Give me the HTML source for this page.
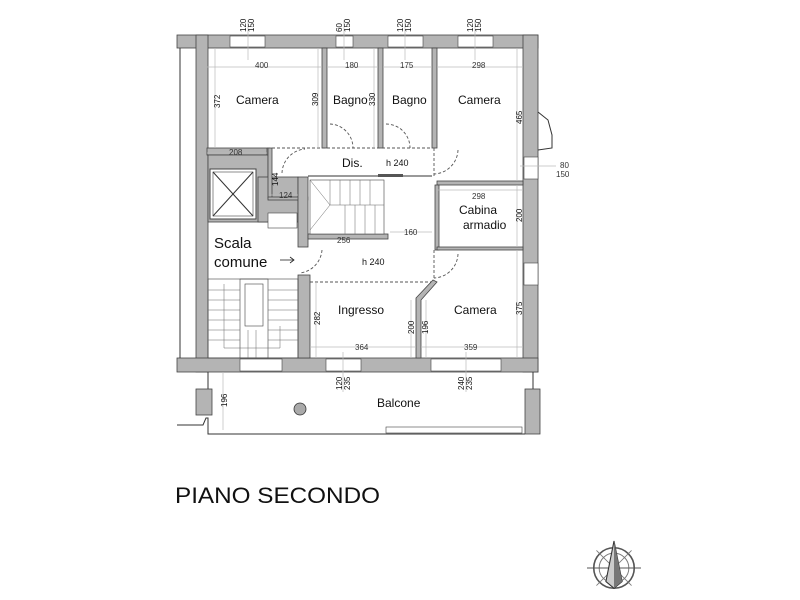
<!DOCTYPE html>
<html><head><meta charset="utf-8"><style>
html,body{margin:0;padding:0;background:#fff;}
svg{display:block;}
text{font-family:"Liberation Sans",sans-serif;fill:#111;}
.d{font-size:8px;fill:#333;}
.w{fill:#b4b4b4;stroke:#444;stroke-width:0.8;}
.l{stroke:#bbb;stroke-width:0.7;fill:none;}
.k{stroke:#333;stroke-width:1;fill:none;}
.dash{stroke:#555;stroke-width:0.9;fill:none;stroke-dasharray:3,2;}
</style></head><body>
<svg width="800" height="600" viewBox="0 0 800 600">
<rect class="w" x="177" y="35" width="361" height="13"/>
<rect class="w" x="196" y="35" width="12" height="337"/>
<rect class="w" x="523" y="35" width="15" height="337"/>
<rect class="w" x="177" y="358" width="361" height="14"/>
<line class="k" x1="180" y1="48" x2="180" y2="358"/>
<rect x="230" y="36" width="35" height="11" fill="#fff" stroke="#444" stroke-width="0.6"/>
<rect x="336" y="36" width="17" height="11" fill="#fff" stroke="#444" stroke-width="0.6"/>
<rect x="388" y="36" width="35" height="11" fill="#fff" stroke="#444" stroke-width="0.6"/>
<rect x="458" y="36" width="35" height="11" fill="#fff" stroke="#444" stroke-width="0.6"/>
<rect x="240" y="359" width="42" height="12" fill="#fff" stroke="#444" stroke-width="0.6"/>
<rect x="326" y="359" width="35" height="12" fill="#fff" stroke="#444" stroke-width="0.6"/>
<rect x="431" y="359" width="70" height="12" fill="#fff" stroke="#444" stroke-width="0.6"/>
<rect x="524" y="157" width="14" height="22" fill="#fff" stroke="#444" stroke-width="0.6"/>
<rect x="524" y="263" width="14" height="22" fill="#fff" stroke="#444" stroke-width="0.6"/>
<polyline class="k" points="538,112 548,120 552,135 552,148 538,150"/>
<rect class="w" x="322" y="48" width="5" height="100"/>
<rect class="w" x="378" y="48" width="5" height="100"/>
<rect class="w" x="432" y="48" width="5" height="100"/>
<rect class="w" x="207" y="148" width="60" height="7"/>
<rect class="w" x="437" y="181" width="86" height="4"/>
<rect class="w" x="435" y="185" width="4" height="65"/>
<rect class="w" x="437" y="247" width="86" height="3"/>
<rect class="w" x="208" y="155" width="60" height="67"/>
<rect class="w" x="258" y="177" width="40" height="45"/>
<rect class="w" x="268" y="148" width="4" height="50"/>
<rect class="w" x="268" y="197" width="40" height="3"/>
<rect x="210" y="169" width="46" height="50" fill="#fff" stroke="#444"/>
<rect x="213" y="172" width="40" height="44" fill="none" stroke="#444" stroke-width="0.6"/>
<line class="k" x1="213" y1="172" x2="253" y2="216" stroke-width="0.6"/>
<line class="k" x1="253" y1="172" x2="213" y2="216" stroke-width="0.6"/>
<rect x="268" y="213" width="29" height="15" fill="#fff" stroke="#444" stroke-width="0.6"/>
<rect class="w" x="298" y="177" width="10" height="70"/>
<rect class="w" x="298" y="275" width="12" height="83"/>
<rect class="w" x="308" y="234" width="80" height="5"/>
<rect x="310" y="180" width="74" height="54" fill="#fff" stroke="#444" stroke-width="0.6"/>
<g stroke="#666" stroke-width="0.5">
<line x1="330" y1="180" x2="330" y2="205"/><line x1="340" y1="180" x2="340" y2="205"/><line x1="350" y1="180" x2="350" y2="205"/><line x1="360" y1="180" x2="360" y2="205"/><line x1="370" y1="180" x2="370" y2="205"/>
<line x1="330" y1="205" x2="384" y2="205"/>
<line x1="345" y1="205" x2="345" y2="234"/><line x1="355" y1="205" x2="355" y2="234"/><line x1="365" y1="205" x2="365" y2="234"/><line x1="375" y1="205" x2="375" y2="234"/>
<line x1="310" y1="180" x2="330" y2="205"/><line x1="330" y1="205" x2="310" y2="230"/>
</g>
<line class="dash" x1="267" y1="148" x2="432" y2="148"/>
<line class="dash" x1="434" y1="148" x2="434" y2="177"/>
<line class="dash" x1="310" y1="282" x2="434" y2="282"/>
<line class="dash" x1="434" y1="250" x2="434" y2="280"/>
<line class="k" x1="308" y1="176" x2="432" y2="176"/>
<rect x="378" y="174" width="25" height="3" fill="#555"/>
<polygon class="w" points="433,280 437,282 421,300 421,358 416,358 416,298"/>
<path class="dash" d="M330 124 A24 24 0 0 1 353 148"/>
<path class="dash" d="M386 124 A24 24 0 0 1 410 148"/>
<path class="dash" d="M282 173 A25 25 0 0 1 305 149"/>
<path class="dash" d="M458 150 A25 25 0 0 1 434 174"/>
<path class="dash" d="M322 250 A25 25 0 0 1 300 273"/>
<path class="dash" d="M458 254 A25 25 0 0 1 434 278"/>
<rect x="208" y="279" width="90" height="79" fill="none" stroke="#444" stroke-width="0.6"/>
<rect x="240" y="279" width="28" height="79" fill="none" stroke="#444" stroke-width="0.6"/>
<rect x="245" y="284" width="18" height="42" fill="none" stroke="#444" stroke-width="0.6"/>
<g stroke="#666" stroke-width="0.5">
<line x1="208" y1="290" x2="240" y2="290"/><line x1="208" y1="300" x2="240" y2="300"/><line x1="208" y1="310" x2="240" y2="310"/><line x1="208" y1="320" x2="240" y2="320"/><line x1="208" y1="330" x2="240" y2="330"/><line x1="208" y1="340" x2="240" y2="340"/>
<line x1="268" y1="290" x2="298" y2="290"/><line x1="268" y1="300" x2="298" y2="300"/><line x1="268" y1="310" x2="298" y2="310"/><line x1="268" y1="320" x2="298" y2="320"/><line x1="268" y1="330" x2="298" y2="330"/><line x1="268" y1="340" x2="298" y2="340"/>
<line x1="248" y1="330" x2="248" y2="358"/><line x1="256" y1="330" x2="256" y2="358"/>
<polyline points="224,284 224,348 280,348 280,326" fill="none"/>
</g>
<g class="l">
<line x1="207" y1="67" x2="322" y2="67"/><line x1="327" y1="67" x2="378" y2="67"/><line x1="383" y1="67" x2="432" y2="67"/><line x1="437" y1="67" x2="523" y2="67"/>
<line x1="215" y1="48" x2="215" y2="148"/><line x1="318" y1="48" x2="318" y2="148"/><line x1="374" y1="48" x2="374" y2="148"/><line x1="517" y1="48" x2="517" y2="181"/>
<line x1="207" y1="153" x2="267" y2="153"/><line x1="270" y1="195" x2="298" y2="195"/>
<line x1="437" y1="190" x2="523" y2="190"/><line x1="517" y1="185" x2="517" y2="247"/>
<line x1="310" y1="236" x2="384" y2="236"/><line x1="390" y1="232" x2="432" y2="232"/>
<line x1="310" y1="347" x2="416" y2="347"/><line x1="421" y1="347" x2="523" y2="347"/>
<line x1="316" y1="282" x2="316" y2="358"/><line x1="411" y1="300" x2="411" y2="358"/><line x1="426" y1="300" x2="426" y2="358"/><line x1="517" y1="250" x2="517" y2="358"/>
<line x1="223" y1="372" x2="223" y2="430"/>
<line x1="248" y1="20" x2="248" y2="60"/><line x1="344" y1="20" x2="344" y2="60"/><line x1="405" y1="20" x2="405" y2="60"/><line x1="475" y1="20" x2="475" y2="60"/>
<line x1="343" y1="352" x2="343" y2="392"/><line x1="466" y1="352" x2="466" y2="392"/>
<line x1="520" y1="166" x2="556" y2="166"/>
</g>
<line class="k" x1="208" y1="372" x2="208" y2="392" stroke-width="0.6"/>
<line class="k" x1="533" y1="372" x2="533" y2="392" stroke-width="0.6"/>
<rect class="w" x="196" y="389" width="16" height="26"/>
<rect class="w" x="525" y="389" width="15" height="45"/>
<polyline class="k" points="177,425 203,425 206,418 208,418 208,434 525,434" stroke-width="0.8"/>
<rect x="386" y="427" width="136" height="6" fill="#fff" stroke="#444" stroke-width="0.6"/>
<circle cx="300" cy="409" r="6" fill="#aaa" stroke="#333" stroke-width="0.8"/>
<text x="236" y="104" font-size="12">Camera</text>
<text x="333" y="104" font-size="12">Bagno</text>
<text x="392" y="104" font-size="12">Bagno</text>
<text x="458" y="104" font-size="12">Camera</text>
<text x="342" y="167" font-size="12">Dis.</text>
<text x="386" y="166" font-size="9">h 240</text>
<text x="459" y="214" font-size="12">Cabina</text>
<text x="463" y="229" font-size="12">armadio</text>
<text x="362" y="265" font-size="9">h 240</text>
<text x="338" y="314" font-size="12">Ingresso</text>
<text x="454" y="314" font-size="12">Camera</text>
<text x="377" y="407" font-size="12">Balcone</text>
<text x="214" y="248" font-size="15">Scala</text>
<text x="214" y="267" font-size="15">comune</text>
<line x1="280" y1="260" x2="294" y2="260" stroke="#222" stroke-width="0.8"/>
<polyline points="290,257 294,260 290,263" fill="none" stroke="#222" stroke-width="0.8"/>
<text class="d" x="255" y="68">400</text>
<text class="d" x="345" y="68">180</text>
<text class="d" x="400" y="68">175</text>
<text class="d" x="472" y="68">298</text>
<text class="d" x="229" y="155">208</text>
<text class="d" x="279" y="198">124</text>
<text class="d" x="472" y="199">298</text>
<text class="d" x="337" y="243">256</text>
<text class="d" x="404" y="235">160</text>
<text class="d" x="355" y="350">364</text>
<text class="d" x="464" y="350">359</text>
<text class="d" x="560" y="168">80</text>
<text class="d" x="556" y="177">150</text>
<g class="d">
<text transform="translate(220,108) rotate(-90)">372</text>
<text transform="translate(318,106) rotate(-90)">309</text>
<text transform="translate(375,106) rotate(-90)">330</text>
<text transform="translate(522,124) rotate(-90)">465</text>
<text transform="translate(278,186) rotate(-90)">144</text>
<text transform="translate(522,222) rotate(-90)">200</text>
<text transform="translate(320,325) rotate(-90)">282</text>
<text transform="translate(414,334) rotate(-90)">200</text>
<text transform="translate(428,334) rotate(-90)">196</text>
<text transform="translate(522,315) rotate(-90)">375</text>
<text transform="translate(227,407) rotate(-90)">196</text>
<text transform="translate(246,32) rotate(-90)">120</text>
<text transform="translate(254,32) rotate(-90)">150</text>
<text transform="translate(342,32) rotate(-90)">60</text>
<text transform="translate(350,32) rotate(-90)">150</text>
<text transform="translate(403,32) rotate(-90)">120</text>
<text transform="translate(411,32) rotate(-90)">150</text>
<text transform="translate(473,32) rotate(-90)">120</text>
<text transform="translate(481,32) rotate(-90)">150</text>
<text transform="translate(342,390) rotate(-90)">120</text>
<text transform="translate(350,390) rotate(-90)">235</text>
<text transform="translate(464,390) rotate(-90)">240</text>
<text transform="translate(472,390) rotate(-90)">235</text>
</g>
<text x="175" y="503" font-size="22" textLength="205" lengthAdjust="spacingAndGlyphs">PIANO SECONDO</text>
<g transform="translate(614,568) scale(1.35)">
<circle r="15" fill="none" stroke="#555" stroke-width="1.2"/>
<circle r="11" fill="none" stroke="#777" stroke-width="0.7"/>
<line x1="-20" y1="0" x2="20" y2="0" stroke="#555" stroke-width="0.8"/>
<line x1="-13" y1="-13" x2="13" y2="13" stroke="#777" stroke-width="0.6"/>
<line x1="13" y1="-13" x2="-13" y2="13" stroke="#777" stroke-width="0.6"/>
<polygon points="0,-20 -6,10 0,15 6,10" fill="#ccc" stroke="#333" stroke-width="0.8"/>
<polygon points="0,-20 0,15 6,10" fill="#777"/>
</g>
</svg>
</body></html>
